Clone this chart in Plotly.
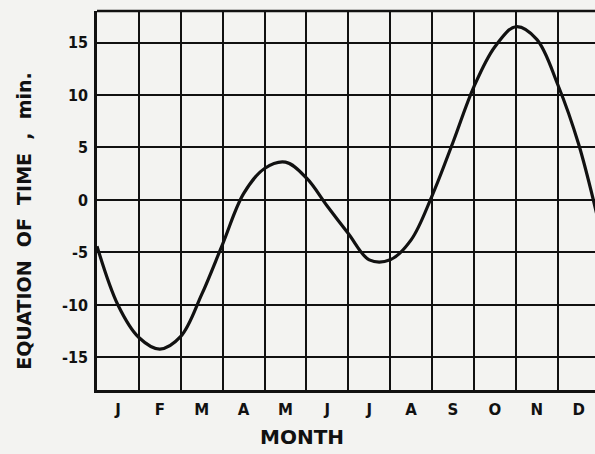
import plotly.graph_objects as go

# Equation of time curve (x = months since Jan 1, y = minutes)
month_pos = [0.0, 0.5, 1.0, 1.5, 2.0, 2.5, 3.0, 3.5, 4.0, 4.5, 5.0, 5.5, 6.0,
             6.5, 7.0, 7.5, 8.0, 8.5, 9.0, 9.5, 10.0, 10.5, 11.0, 11.5, 12.0]
eot_min = [-4.4, -10.0, -13.1, -14.2, -13.0, -9.0, -4.2, 0.6, 3.0, 3.6, 2.1, -0.6, -3.2,
           -5.7, -5.7, -3.8, 0.4, 5.5, 10.8, 14.6, 16.5, 15.3, 11.0, 5.3, -2.5]

month_labels = ["J", "F", "M", "A", "M", "J", "J", "A", "S", "O", "N", "D"]
month_centers = [i + 0.5 for i in range(12)]
y_ticks = [-15, -10, -5, 0, 5, 10, 15]
y_tick_text = ["-15", "-10", "-5", "0", "5", "10", "15"]

ink = "#111111"
paper = "#f3f3f1"
font_family = "DejaVu Sans, Arial, sans-serif"
narrow_family = "Liberation Sans Narrow, DejaVu Sans Condensed, Arial Narrow, Liberation Sans, sans-serif"

fig = go.Figure()
fig.add_trace(go.Scatter(
    x=month_pos, y=eot_min, mode="lines",
    line=dict(color=ink, width=3.2, shape="spline", smoothing=1.0),
    hoverinfo="skip", showlegend=False,
))

fig.update_layout(
    width=595, height=454,
    margin=dict(l=97, r=0, t=11, b=64),
    paper_bgcolor=paper, plot_bgcolor=paper,
    font=dict(family=font_family, color=ink),
    showlegend=False,
    xaxis=dict(
        range=[0, 11.89],
        tickmode="array", tickvals=month_centers, ticktext=month_labels,
        showgrid=False, zeroline=False,
        ticks="outside", ticklen=4, tickcolor="rgba(0,0,0,0)",
        tickfont=dict(size=15, family=font_family, color=ink, weight="bold"),
        showline=True, linecolor=ink, linewidth=2.5,
        minor=dict(tick0=0, dtick=1, showgrid=True, gridcolor=ink, gridwidth=2.2, ticks=""),
    ),
    yaxis=dict(
        range=[-18.1, 18.0],
        tickmode="array", tickvals=y_ticks, ticktext=y_tick_text,
        showgrid=True, gridcolor=ink, gridwidth=2.2,
        zeroline=False,
        ticks="outside", ticklen=3, tickcolor="rgba(0,0,0,0)",
        tickfont=dict(size=16, family=narrow_family, color=ink, weight="bold"),
        showline=True, linecolor=ink, linewidth=2.5,
    ),
    shapes=[dict(type="line", xref="paper", yref="paper", x0=0, x1=1, y0=1, y1=1,
                 line=dict(color=ink, width=2.5))],
    annotations=[
        dict(text="MONTH", xref="paper", yref="paper", x=0.412, y=-0.125,
             xanchor="center", yanchor="middle", showarrow=False,
             font=dict(size=20, family=font_family, color=ink, weight="bold")),
        dict(text="EQUATION  OF  TIME  ,  min.", xref="paper", yref="paper",
             x=-0.147, y=0.446, textangle=-90, xanchor="center", yanchor="middle",
             showarrow=False,
             font=dict(size=19, family=font_family, color=ink, weight="bold")),
    ],
)

fig.write_html(
    "out.html",
    config={"displayModeBar": False},
    post_script="document.body.style.margin='0';document.body.style.overflow='hidden';",
)
